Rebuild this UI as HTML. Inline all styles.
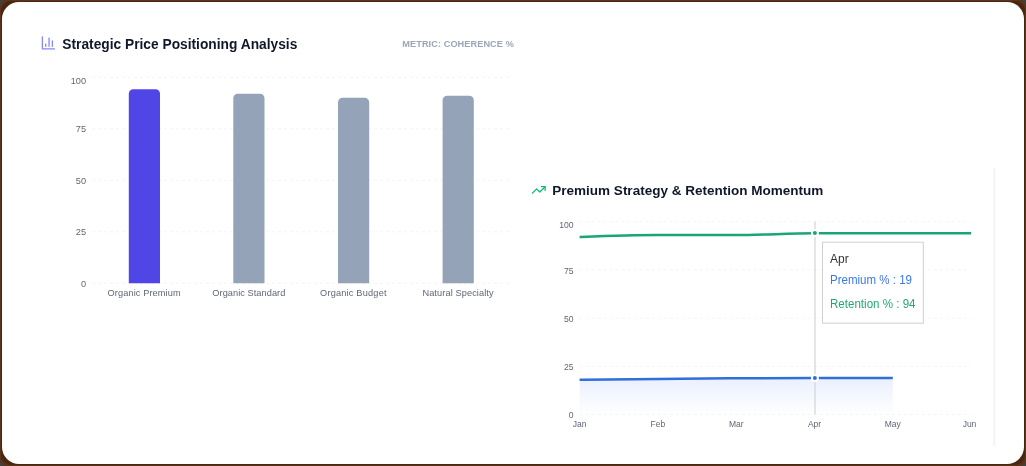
<!DOCTYPE html>
<html>
<head>
<meta charset="utf-8">
<style>
html,body{margin:0;padding:0;width:1026px;height:466px;overflow:hidden;background:#414141;}
.frame{position:absolute;left:0;top:0;width:1026px;height:466px;background:#5a3318;border-radius:7px;}
.frame2{position:absolute;left:1px;top:1px;right:1px;bottom:1px;background:#48260f;border-radius:10px;}
.card{position:absolute;left:2px;top:2px;width:1022px;height:462px;background:#fff;border-radius:17px;overflow:hidden;}
svg{position:absolute;left:0;top:0;will-change:transform;}
text{font-family:"Liberation Sans",sans-serif;}
</style>
</head>
<body>
<div class="frame"><div class="frame2"></div></div>
<div class="card"></div>
<svg width="1026" height="466" viewBox="0 0 1026 466">
  <defs>
    <linearGradient id="blueFill" x1="0" y1="0" x2="0" y2="1">
      <stop offset="0%" stop-color="#2563eb" stop-opacity="0.1"/>
      <stop offset="100%" stop-color="#2563eb" stop-opacity="0"/>
    </linearGradient>
  </defs>

  <!-- ===== LEFT: bar chart ===== -->
  <g transform="translate(40.4,34.9) scale(0.6667)" fill="none" stroke="#8589f4" stroke-width="2" stroke-linecap="round" stroke-linejoin="round">
    <path d="M3 3v18h18"/><path d="M18 17V9"/><path d="M13 17V5"/><path d="M8 17v-3"/>
  </g>
  <text x="62.3" y="48.7" font-size="14" font-weight="bold" fill="#0f172a" textLength="235" lengthAdjust="spacingAndGlyphs">Strategic Price Positioning Analysis</text>
  <text x="402.3" y="47.1" font-size="9.2" font-weight="bold" fill="#9aa6b9" textLength="111.5" lengthAdjust="spacing">METRIC: COHERENCE %</text>

  <g stroke="#f2f4f7" stroke-width="1" stroke-dasharray="3 3">
    <line x1="92" y1="77.3" x2="510.4" y2="77.3"/>
    <line x1="92" y1="128.8" x2="510.4" y2="128.8"/>
    <line x1="92" y1="180.3" x2="510.4" y2="180.3"/>
    <line x1="92" y1="231.8" x2="510.4" y2="231.8"/>
    <line x1="92" y1="283.3" x2="510.4" y2="283.3"/>
  </g>
  <g font-size="9.2" fill="#5e6675" text-anchor="end">
    <text x="86" y="84.2">100</text>
    <text x="86" y="132.2">75</text>
    <text x="86" y="183.7">50</text>
    <text x="86" y="235.2">25</text>
    <text x="86" y="286.7">0</text>
  </g>
  <path d="M128.8,283.3V93.80A4.5,4.5 0 0 1 133.30,89.3H155.50A4.5,4.5 0 0 1 160.00,93.80V283.3Z" fill="#4f46e5"/>
  <path d="M233.3,283.3V98.20A4.5,4.5 0 0 1 237.80,93.7H260.00A4.5,4.5 0 0 1 264.50,98.20V283.3Z" fill="#94a3b8"/>
  <path d="M338,283.3V102.35A4.5,4.5 0 0 1 342.50,97.85H364.70A4.5,4.5 0 0 1 369.20,102.35V283.3Z" fill="#94a3b8"/>
  <path d="M442.6,283.3V100.20A4.5,4.5 0 0 1 447.10,95.7H469.30A4.5,4.5 0 0 1 473.80,100.20V283.3Z" fill="#94a3b8"/>
  <g font-size="9.2" fill="#5e6675">
    <text x="107.6" y="296.2" textLength="73" lengthAdjust="spacing">Organic Premium</text>
    <text x="212.3" y="296.2" textLength="73" lengthAdjust="spacing">Organic Standard</text>
    <text x="320.1" y="296.2" textLength="66.4" lengthAdjust="spacing">Organic Budget</text>
    <text x="422.4" y="296.2" textLength="71.2" lengthAdjust="spacing">Natural Specialty</text>
  </g>

  <!-- ===== RIGHT: line chart ===== -->
  <rect x="993.2" y="168" width="2.2" height="278" fill="#f2f5f8"/>
  <g transform="translate(531.27,182.3) scale(0.63)" fill="none" stroke="#10b981" stroke-width="2" stroke-linecap="round" stroke-linejoin="round">
    <polyline points="22 7 13.5 15.5 8.5 10.5 2 17"/><polyline points="16 7 22 7 22 13"/>
  </g>
  <text x="552.3" y="194.7" font-size="13.5" font-weight="bold" fill="#0f172a" textLength="271" lengthAdjust="spacingAndGlyphs">Premium Strategy &amp; Retention Momentum</text>

  <g stroke="#f2f4f7" stroke-width="1" stroke-dasharray="3 3">
    <line x1="579.6" y1="221.6" x2="971.1" y2="221.6"/>
    <line x1="579.6" y1="269.85" x2="971.1" y2="269.85"/>
    <line x1="579.6" y1="318.1" x2="971.1" y2="318.1"/>
    <line x1="579.6" y1="366.35" x2="971.1" y2="366.35"/>
    <line x1="579.6" y1="414.6" x2="971.1" y2="414.6"/>
  </g>
  <g font-size="8.6" fill="#5e6675" text-anchor="end">
    <text x="573.6" y="228.1">100</text>
    <text x="573.6" y="273.6">75</text>
    <text x="573.6" y="321.8">50</text>
    <text x="573.6" y="370.1">25</text>
    <text x="573.6" y="418.1">0</text>
  </g>
  <g font-size="8.5" fill="#5e6675" text-anchor="middle">
    <text x="579.6" y="427.4">Jan</text>
    <text x="657.9" y="427.4">Feb</text>
    <text x="736.2" y="427.4">Mar</text>
    <text x="814.5" y="427.4">Apr</text>
    <text x="892.8" y="427.4">May</text>
    <text x="969.5" y="427.4">Jun</text>
  </g>

  <path d="M579.60,379.86C605.70,379.51,631.80,379.15,657.90,378.90C684.00,378.64,710.10,378.48,736.20,378.32C762.30,378.16,788.40,377.93,814.50,377.93C840.60,377.93,866.70,377.93,892.80,377.93L892.80,414.60L579.60,414.60Z" fill="url(#blueFill)"/>
  <line x1="815" y1="221.6" x2="815" y2="414.6" stroke="#d4d4d4" stroke-width="1.2"/>
  <path d="M579.60,379.86C605.70,379.51,631.80,379.15,657.90,378.90C684.00,378.64,710.10,378.48,736.20,378.32C762.30,378.16,788.40,377.93,814.50,377.93C840.60,377.93,866.70,377.93,892.80,377.93" fill="none" stroke="#2f6fd9" stroke-width="2.5"/>
  <path d="M579.60,237.04C605.70,236.08,631.80,235.11,657.90,235.11C684.00,235.11,710.10,235.11,736.20,235.11C762.30,235.11,788.40,233.18,814.50,233.18C840.60,233.18,866.70,233.18,892.80,233.18C918.90,233.18,945.00,233.18,971.10,233.18" fill="none" stroke="#1aa574" stroke-width="2.5"/>
  <circle cx="814.9" cy="233.1" r="3" fill="#1aa574" stroke="#fff" stroke-width="2"/>
  <circle cx="814.9" cy="377.9" r="3" fill="#2f6fd9" stroke="#fff" stroke-width="2"/>

  <!-- tooltip -->
  <rect x="822.5" y="242.2" width="100.8" height="81" fill="#fff" stroke="#d0d0d0" stroke-width="1"/>
  <text x="830" y="262.8" font-size="12" fill="#333">Apr</text>
  <text x="830" y="283.9" font-size="12" fill="#3b78e7" textLength="82" lengthAdjust="spacingAndGlyphs">Premium % : 19</text>
  <text x="830" y="307.6" font-size="12" fill="#22a877" textLength="85.5" lengthAdjust="spacingAndGlyphs">Retention % : 94</text>
</svg>
</body>
</html>
